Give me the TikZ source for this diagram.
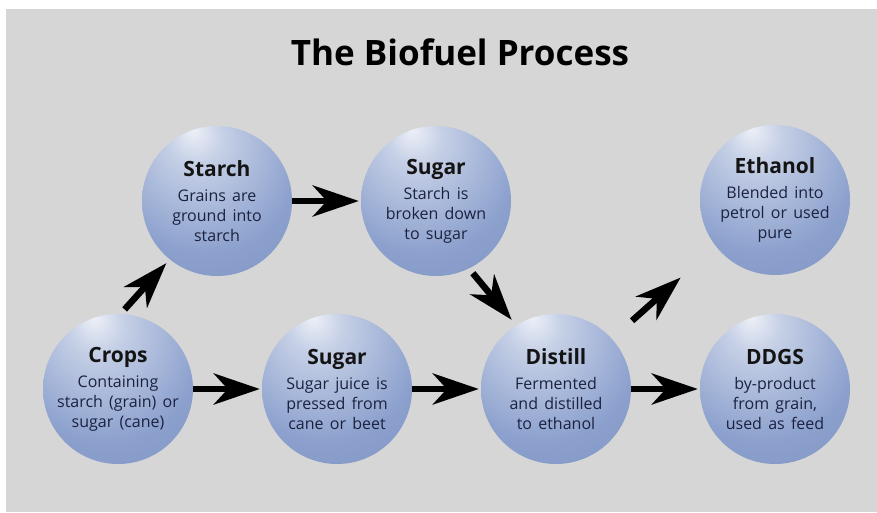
\documentclass[tikz,border=0pt]{standalone}
\usepackage{fontspec}
\setmainfont{Open Sans}
\newfontfamily\bodyfam{Open Sans}[WordSpace=1.5]
\usetikzlibrary{arrows.meta}

\definecolor{bggrey}{HTML}{D6D6D6}
\definecolor{sphhi}{HTML}{EDF0F7}
\definecolor{sphmid}{HTML}{8BA0CD}
\definecolor{sphedge}{HTML}{5F6290}
\definecolor{bodyink}{HTML}{1B2240}
\pgfdeclareradialshading{sphere}{\pgfpoint{-8bp}{24bp}}{%
  color(0bp)=(sphhi); color(9bp)=(sphhi!60!sphmid); color(32bp)=(sphmid);
  color(58bp)=(sphmid!70!sphedge); color(70bp)=(sphedge); color(78bp)=(sphedge)}

\newcommand{\headfont}{\rmfamily\fontsize{21}{21}\selectfont\bfseries\color{black!92}}

\begin{document}
\begin{tikzpicture}[x=1pt,y=1pt,node distance=219pt,
    flow/.style={line width=6.5pt,-{Stealth[length=46pt,width=31pt,inset=14pt]},shorten >=2pt},
    main node/.style={circle,shading=sphere,minimum size=150pt,inner sep=-10pt,
      align=center,text=bodyink,font=\bodyfam\fontsize{16}{20}\selectfont}]
    \useasboundingbox (0,0) rectangle (877,512);
    \fill[bggrey] (6,0) rectangle (877,503);
    \node[anchor=base,font=\fontsize{35}{35}\selectfont\bfseries] (title) at (460,446) {The Biofuel Process};
    % bottom row
    \node[main node] (1) at (118,123) {{\headfont Crops}\\[5pt] Containing\\ starch (grain) or\\ sugar (cane)};
    \node[main node] (2) [right of=1] {{\headfont Sugar}\\[5pt] Sugar juice is\\ pressed from\\ cane or beet};
    \node[main node] (3) [right of=2] {{\headfont Distill}\\[5pt] Fermented\\ and distilled\\ to ethanol};
    \node[main node] (4) [right of=3] {{\headfont DDGS}\\[5pt] by-product\\ from grain,\\ used as feed};
    % top row
    \node[main node] (5) at (217,311) {{\headfont Starch}\\[5pt] Grains are\\ ground into\\ starch};
    \node[main node] (6) [right of=5] {{\headfont Sugar}\\[5pt] Starch is\\ broken down\\ to sugar};
    \node[main node] (7) [above of=4,node distance=189pt] {{\headfont Ethanol}\\[5pt] Blended into\\ petrol or used\\ pure};
    \path[flow]
    (1) edge (2)
    (2) edge (3)
    (3) edge (4)
    (5) edge (6)
    (1.88) edge [shorten <=6pt,shorten >=5pt] (5.231)
    (6.296) edge [shorten <=6pt,shorten >=7pt] (3.122)
    (3.42) edge [shorten <=27pt,shorten >=47pt] (7.218);
\end{tikzpicture}
\end{document}
